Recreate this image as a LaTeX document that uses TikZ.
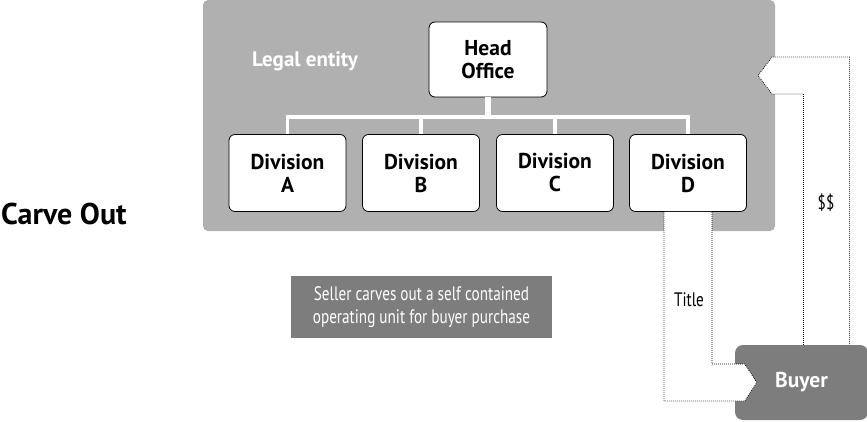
\documentclass[tikz,border=0pt]{standalone}
\usepackage{fontspec}
\setmainfont{PT Sans}
\newfontfamily\condfont[FakeStretch=0.78]{PT Sans}
\usetikzlibrary{calc}
\definecolor{entitygray}{gray}{0.69}
\definecolor{boxgray}{gray}{0.49}

\begin{document}
\begin{tikzpicture}[x=1pt, y=-1pt,
    unit/.style={draw=black, line width=0.8pt, fill=white, rounded corners=6pt,
        minimum width=117pt, minimum height=77pt, align=center,
        font=\fontsize{21.5}{23}\selectfont\bfseries},
    tree/.style={draw=white, line width=3.5pt},
    flow/.style={fill=white, draw=black, line width=0.8pt, dash pattern=on 0.8pt off 1.2pt},
    darkbox/.style={fill=boxgray, text=white, inner sep=0pt}
]
    \useasboundingbox (0,0) rectangle (867,422);
    % Legal entity
    \node[fill=entitygray, rounded corners=5pt, minimum width=572pt,
        minimum height=231pt, inner sep=0pt] (entity) at (489,115.5) {};
    \node[text=white, font=\fontsize{21}{23}\selectfont\bfseries]
        (entitylabel) at (305,61) {Legal entity};
    \node[anchor=west, inner sep=0pt, font=\fontsize{30}{34}\selectfont\bfseries]
        (carveout) at (1,214) {Carve Out};
    % Head office and divisions
    \node[unit, minimum width=118pt, minimum height=75pt] (head) at (488,59.5) {Head\\Office};
    \foreach \name/\x in {A/287.5,B/421,C/555,D/688} {
        \node[unit] (div\name) at (\x,173) {Division\\\name};
    }
    % Tree
    \coordinate (bus) at (488,117);
    \draw[tree, line width=6pt] (head.south) -- (bus);
    \foreach \name in {A,B,C,D} {
        \draw[tree] (div\name.north) |- (bus);
    }
    % Boxes
    \node[darkbox, minimum width=261pt, minimum height=62pt, align=center,
        font=\condfont\fontsize{19.5}{23}\selectfont]
        (note) at (421.5,307) {Seller carves out a self contained\\operating unit for buyer purchase};
    \node[darkbox, rounded corners=8pt, minimum width=133pt, minimum height=75pt,
        font=\fontsize{21.5}{23}\selectfont\bfseries] (buyer) at (801.5,382.5) {Buyer};
    % Arrows
    \coordinate (paytip) at (758,75.5);
    \draw[flow] ([xshift=-24pt]divD.south) |- ($(buyer.west)+(10,18.5)$)
        -- ($(buyer.west)+(22,0)$) -- ($(buyer.west)+(10,-18.5)$) -| ([xshift=24pt]divD.south);
    \draw[flow] ([xshift=2pt]buyer.north) |- ($(paytip)+(14,18.5)$)
        -- (paytip) -- ($(paytip)+(14,-18.5)$) -| ([xshift=48pt]buyer.north);
    \node[font=\condfont\fontsize{19.5}{22}\selectfont] (titlelabel) at (689,300) {Title};
    \node[font=\condfont\fontsize{19.5}{22}\selectfont] (paylabel) at (826,203) {\$\$};
\end{tikzpicture}
\end{document}
